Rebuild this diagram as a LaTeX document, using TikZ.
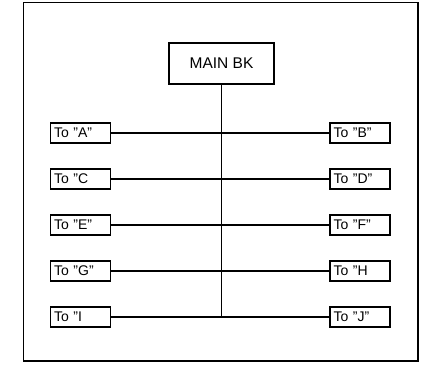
\documentclass[tikz,border=0pt]{standalone}
\usepackage{fontspec}
\setmainfont{Liberation Sans}
\begin{document}
\begin{tikzpicture}[x=1pt,y=-1pt,
  line width=1.2pt,
  tap/.style={draw, line width=1.3pt, minimum height=20pt, text width=53pt,
    inner xsep=3.5pt, inner ysep=0pt, align=left,
    font=\fontsize{14}{16}\selectfont},
  mainbox/.style={draw, line width=1.3pt, minimum width=105pt, minimum height=41pt,
    inner sep=0pt, font=\fontsize{15.5}{17}\selectfont}]
\useasboundingbox (0,0) rectangle (430,371);
% outer frame
\draw[line width=1.4pt] (23.5,2.5) rectangle (418,361);
% main breaker
\node[mainbox] (main) at (221.5,63.5) {MAIN BK};
% branch taps, left and right
\foreach \l/\r/\y [count=\i] in {"A"/"B"/133, "C/"D"/179, "E"/"F"/225, "G"/"H/271, "I/"J"/317}{
  \node[tap] (L\i) at (80.5,\y) {To \l};
  \node[tap] (R\i) at (360,\y) {To \r};
  \coordinate (J\i) at (main.south |- L\i);
  \draw (L\i.east) -- (R\i.west);
}
% riser
\draw (main.south) -- (J5);
\end{tikzpicture}
\end{document}
